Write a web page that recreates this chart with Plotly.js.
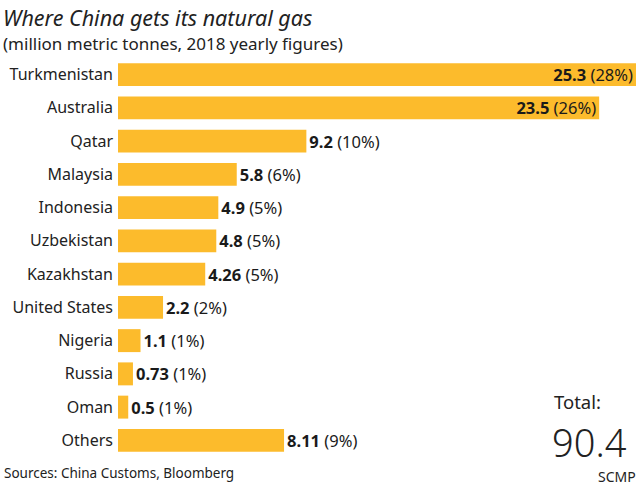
<!DOCTYPE html>
<html><head><meta charset="utf-8">
<script src="https://cdn.plot.ly/plotly-3.0.1.min.js"></script>
<style>html,body{margin:0;padding:0;background:#fff}#chart{width:640px;height:487px}</style>
</head><body><div id="chart"></div>
<script>
const countries = ["Turkmenistan","Australia","Qatar","Malaysia","Indonesia","Uzbekistan","Kazakhstan","United States","Nigeria","Russia","Oman","Others"];
const values = [25.3, 23.5, 9.2, 5.8, 4.9, 4.8, 4.26, 2.2, 1.1, 0.73, 0.5, 8.11];
const valueLabels = ["25.3","23.5","9.2","5.8","4.9","4.8","4.26","2.2","1.1","0.73","0.5","8.11"];
const shares = [28, 26, 10, 6, 5, 5, 5, 2, 1, 1, 1, 9];
const total = "90.4";

const FONT = "Noto Sans, Open Sans, sans-serif";
const texts = values.map((v,i)=>"<b>"+valueLabels[i]+"</b> ("+shares[i]+"%)");
const positions = values.map(v => v > 20 ? "inside" : "outside");

const trace = {
  type: "bar", orientation: "h",
  x: values, y: countries,
  marker: {color: "#FCBB2C"},
  text: texts, textposition: positions, insidetextanchor: "end",
  constraintext: "none",
  textfont: {family: FONT, size: 16.5, color: "#1a1a1a"},
  insidetextfont: {family: FONT, size: 16.5, color: "#1a1a1a"},
  outsidetextfont: {family: FONT, size: 16.5, color: "#1a1a1a"},
  cliponaxis: false, hoverinfo: "none"
};

// paper-y helper: pixel from top -> paper coord (plot area t=58, h=399)
const T = 58, H = 399, L = 118, W = 518;
const py = p => (T + H - p) / H;
const px = p => (p - L) / W;

const layout = {
  width: 640, height: 487,
  margin: {l: L, r: 4, t: T, b: 487 - T - H},
  paper_bgcolor: "#fff", plot_bgcolor: "#fff",
  showlegend: false, bargap: 0.31,
  font: {family: FONT, color: "#222"},
  xaxis: {range: [0, 25.3], visible: false, fixedrange: true},
  yaxis: {autorange: "reversed", showgrid: false, zeroline: false, showline: false,
          ticks: "", ticklabelstandoff: 4, tickfont: {family: FONT, size: 16, color: "#222"}},
  annotations: [
    {xref: "paper", yref: "paper", x: px(1), y: py(1), xanchor: "left", yanchor: "top",
     text: "<i>Where China gets its natural gas</i>", showarrow: false,
     font: {family: FONT, size: 21.5, color: "#222"}},
    {xref: "paper", yref: "paper", x: px(1), y: py(30), xanchor: "left", yanchor: "top",
     text: "(million metric tonnes, 2018 yearly figures)", showarrow: false,
     font: {family: FONT, size: 17, color: "#222"}},
    {xref: "paper", yref: "paper", x: px(2), y: py(473), xanchor: "left", yanchor: "middle",
     text: "Sources: China Customs, Bloomberg", showarrow: false,
     font: {family: FONT, size: 13.5, color: "#222"}},
    {xref: "paper", yref: "paper", x: px(638), y: py(476), xanchor: "right", yanchor: "middle",
     text: "SCMP", showarrow: false,
     font: {family: FONT, size: 14, color: "#222"}},
    {xref: "paper", yref: "paper", x: px(577), y: py(401), xanchor: "center", yanchor: "middle",
     text: "Total:", showarrow: false,
     font: {family: FONT, size: 18.5, color: "#222"}},
    {xref: "paper", yref: "paper", x: px(589), y: py(442), xanchor: "center", yanchor: "middle",
     text: total, showarrow: false,
     font: {family: FONT, size: 38, color: "#222", weight: 300}}
  ]
};

Plotly.newPlot("chart", [trace], layout, {displayModeBar: false, staticPlot: true});
</script></body></html>
